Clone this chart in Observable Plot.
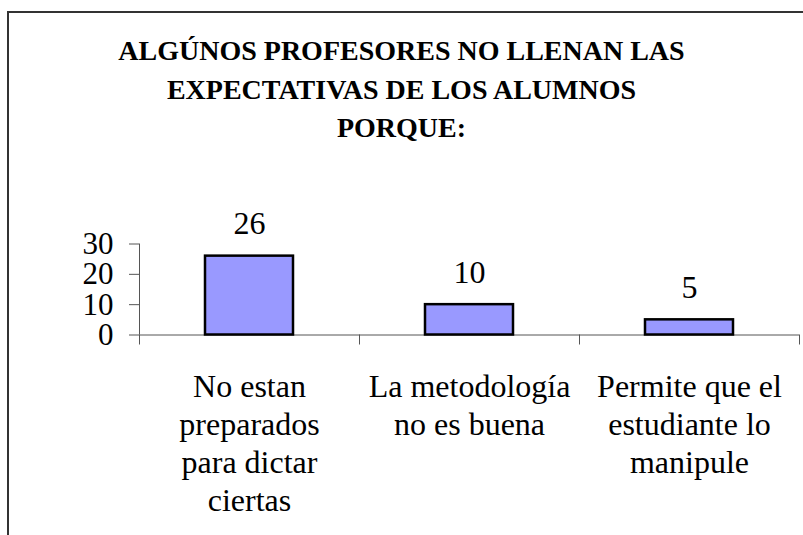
<!DOCTYPE html>
<html><head><meta charset="utf-8">
<script src="https://cdn.jsdelivr.net/npm/d3@7"></script>
<script src="https://cdn.jsdelivr.net/npm/@observablehq/plot@0.6"></script>
<style>
body{margin:0;background:#fff;}
#wrap{position:relative;width:803px;height:535px;overflow:hidden;font-family:'Liberation Serif','Times New Roman',serif;}
#frame{position:absolute;left:7px;top:11px;width:900px;height:700px;border-left:2px solid #333;border-top:2px solid #333;}
#title{position:absolute;left:0;width:803px;top:32px;text-align:center;font-weight:bold;font-size:28px;line-height:38.5px;color:#000;font-family:'Liberation Serif',serif;}
#chart{position:absolute;left:0;top:0;}
</style></head><body>
<div id="wrap"><div id="frame"></div><div id="title"></div><div id="chart"></div></div>
<script>
const titleLines = ["ALGÚNOS PROFESORES NO LLENAN LAS", "EXPECTATIVAS DE LOS ALUMNOS", "PORQUE:"];
const categories = ["No estan\npreparados\npara dictar\nciertas", "La metodología\nno es buena", "Permite que el\nestudiante lo\nmanipule"];
const values = [26, 10, 5];
const yTicks = [0, 10, 20, 30];

document.getElementById("title").innerHTML = titleLines.join("<br>");

const data = categories.map((c, i) => ({i, label: c, value: values[i]}));
const boundaries = [-0.5, ...categories.map((c, i) => i + 0.5)];
const serif = "Liberation Serif, Times New Roman, serif";

const chart = Plot.plot({
  width: 803, height: 535,
  marginLeft: 139, marginRight: 4, marginTop: 243.5, marginBottom: 200.5,
  style: {fontFamily: serif, background: "transparent", color: "#000"},
  x: {domain: [-0.5, categories.length - 0.5], axis: null},
  y: {domain: [0, 30], axis: null},
  marks: [
    Plot.axisY({ticks: yTicks, tickSize: 10, tickPadding: 16, label: null, fontSize: 31, fontFamily: serif, stroke: "#555"}),
    Plot.axisX({ticks: boundaries, tickSize: 10, tickFormat: () => "", label: null, stroke: "#555"}),
    Plot.ruleX([-0.5], {stroke: "#555"}),
    Plot.ruleY([0], {stroke: "#555"}),
    Plot.rectY(data, {x1: d => d.i - 0.2, x2: d => d.i + 0.2, y: "value", fill: "#9999FF", stroke: "#000", strokeWidth: 2.5}),
    Plot.text(data, {x: "i", y: "value", text: d => String(d.value), dy: -22, lineAnchor: "bottom", fontSize: 32, fontFamily: serif, fill: "#000"}),
    Plot.text(data, {x: "i", y: 0, text: "label", lineAnchor: "top", dy: 35, lineHeight: 1.19, fontSize: 32, fontFamily: serif, fill: "#000"})
  ]
});
document.getElementById("chart").appendChild(chart);
</script>
</body></html>
